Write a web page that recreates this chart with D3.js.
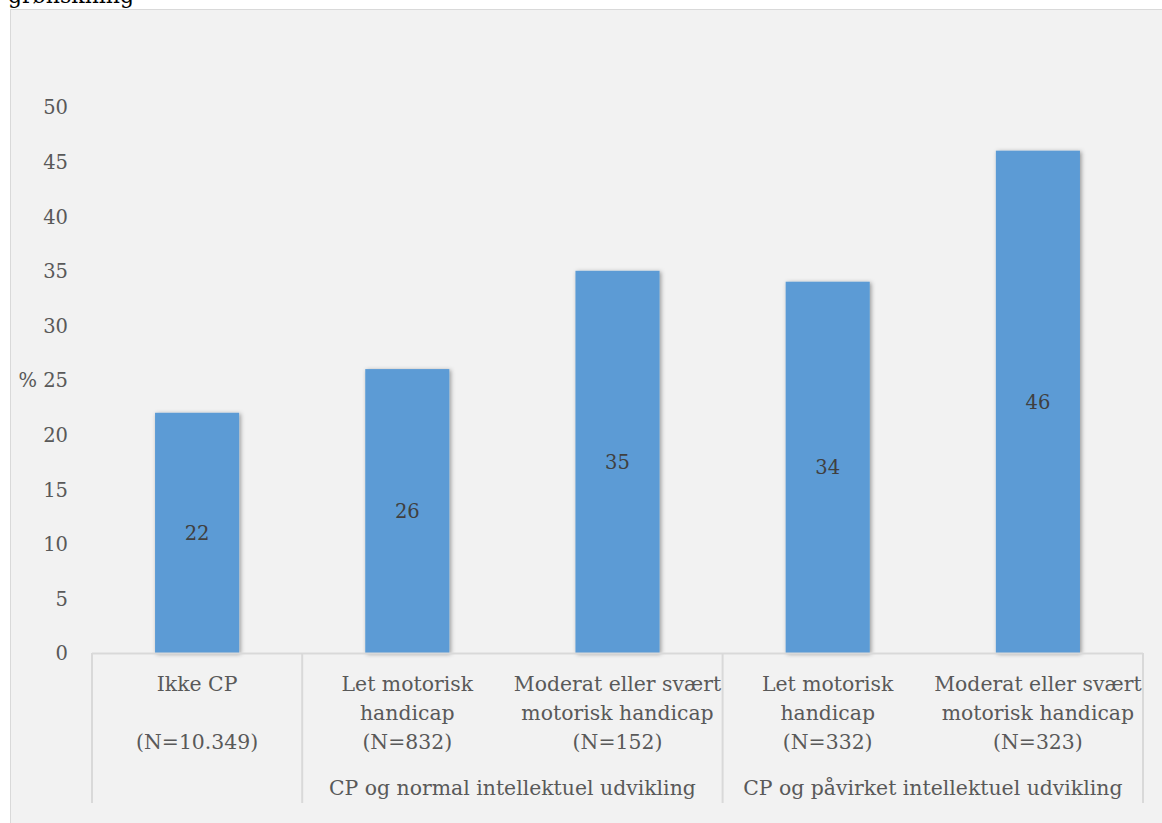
<!DOCTYPE html>
<html>
<head>
<meta charset="utf-8">
<script src="https://cdn.jsdelivr.net/npm/d3@7/dist/d3.min.js"></script>
<style>
  html, body { margin: 0; padding: 0; background: #ffffff; }
  svg { display: block; }
  text { font-family: "DejaVu Serif", "Liberation Serif", serif; }
</style>
</head>
<body>
<svg id="chart" width="1162" height="823"></svg>
<script>
// Andel (%) per gruppe
const categories = ["Ikke CP", "Let motorisk handicap (normal)", "Moderat eller svært motorisk handicap (normal)", "Let motorisk handicap (påvirket)", "Moderat eller svært motorisk handicap (påvirket)"];
const values = [22, 26, 35, 34, 46];
const labelLine1 = ["Ikke CP", "Let motorisk", "Moderat eller svært", "Let motorisk", "Moderat eller svært"];
const labelLine2 = ["", "handicap", "motorisk handicap", "handicap", "motorisk handicap"];
const nLabels = ["(N=10.349)", "(N=832)", "(N=152)", "(N=332)", "(N=323)"];
const groups = [
  { name: "CP og normal intellektuel udvikling", from: 1, to: 2 },
  { name: "CP og påvirket intellektuel udvikling", from: 3, to: 4 }
];
const yTicks = [0, 5, 10, 15, 20, 25, 30, 35, 40, 45, 50];
const yAxisTitle = "%";
const titleText = "grønskning";

const svg = d3.select("#chart");
const textColor = "#595959";
const gridColor = "#d9d9d9";
const fontSize = 19.5;
const labelSize = 20.4;

// heading line above the chart frame
svg.append("text")
  .attr("x", 8).attr("y", 3)
  .attr("font-family", "Liberation Serif, serif")
  .attr("font-size", 22).attr("fill", "#000")
  .text(titleText);

svg.append("rect")
  .attr("x", 10.5).attr("y", 9.5)
  .attr("width", 1170).attr("height", 830)
  .attr("fill", "#f2f2f2").attr("stroke", gridColor);

const defs = svg.append("defs");
const f = defs.append("filter").attr("id", "shadow")
  .attr("x", "-20%").attr("y", "-20%").attr("width", "140%").attr("height", "140%");
f.append("feDropShadow")
  .attr("dx", 1.5).attr("dy", 1).attr("stdDeviation", 2.2)
  .attr("flood-color", "#000").attr("flood-opacity", 0.38);

const x = d3.scaleBand()
  .domain(categories)
  .range([92, 1143])
  .paddingInner(0.6)
  .paddingOuter(0.3);

const y = d3.scaleLinear().domain([0, 50]).range([653, 107]);

// y axis tick labels
const yAxis = d3.axisLeft(y).tickValues(yTicks).tickSize(0).tickPadding(0);
const yg = svg.append("g").attr("transform", "translate(68,0)").call(yAxis);
yg.select(".domain").remove();
yg.selectAll("text")
  .attr("font-family", "DejaVu Serif, serif")
  .attr("font-size", fontSize).attr("fill", textColor)
  .attr("dy", "0.35em");

svg.append("text")
  .attr("x", 37).attr("y", y(25))
  .attr("dy", "0.35em")
  .attr("text-anchor", "end")
  .attr("font-size", fontSize).attr("fill", textColor)
  .text(yAxisTitle);

// bars
svg.append("g").selectAll("rect")
  .data(values)
  .join("rect")
  .attr("x", (d, i) => x(categories[i]))
  .attr("y", d => y(d))
  .attr("width", x.bandwidth())
  .attr("height", d => y(0) - y(d))
  .attr("fill", "#5b9bd5")
  .attr("filter", "url(#shadow)");

// value labels, centred in each bar
svg.append("g").selectAll("text")
  .data(values)
  .join("text")
  .attr("x", (d, i) => x(categories[i]) + x.bandwidth() / 2)
  .attr("y", d => (y(d) + y(0)) / 2)
  .attr("dy", "0.35em")
  .attr("text-anchor", "middle")
  .attr("font-size", fontSize).attr("fill", "#404040")
  .text(d => d);

// category axis line and group separators
const step = x.step();
const x0 = 92;
svg.append("line")
  .attr("x1", x0).attr("x2", x0 + step * categories.length)
  .attr("y1", y(0) + 0.5).attr("y2", y(0) + 0.5)
  .attr("stroke", gridColor).attr("stroke-width", 2);

const sepIdx = [0, 1, 3, 5];
svg.append("g").selectAll("line")
  .data(sepIdx)
  .join("line")
  .attr("x1", d => x0 + step * d).attr("x2", d => x0 + step * d)
  .attr("y1", y(0)).attr("y2", 803)
  .attr("stroke", gridColor).attr("stroke-width", 2);

// category labels
const lab = svg.append("g")
  .attr("font-size", labelSize).attr("fill", textColor)
  .attr("text-anchor", "middle");
categories.forEach((c, i) => {
  const cx = x(c) + x.bandwidth() / 2;
  lab.append("text").attr("x", cx).attr("y", 691).text(labelLine1[i]);
  if (labelLine2[i]) lab.append("text").attr("x", cx).attr("y", 720).text(labelLine2[i]);
  lab.append("text").attr("x", cx).attr("y", 749).text(nLabels[i]);
});

// group labels
groups.forEach(g => {
  const gx = x0 + step * (g.from + g.to + 1) / 2;
  lab.append("text").attr("x", gx).attr("y", 795).text(g.name);
});
</script>
</body>
</html>
